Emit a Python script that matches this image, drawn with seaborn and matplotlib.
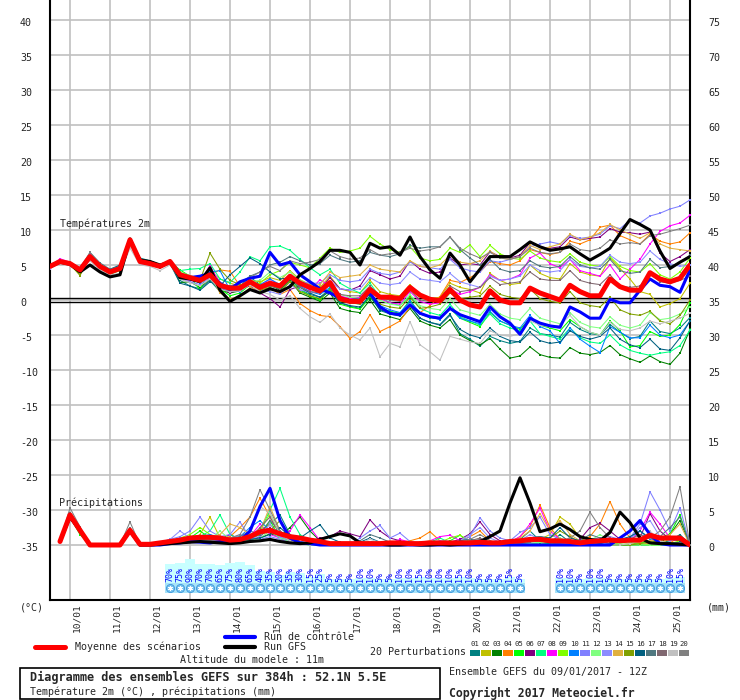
import matplotlib
matplotlib.use("Agg")
import matplotlib.pyplot as plt
import matplotlib.transforms as mtransforms
from matplotlib.lines import Line2D
from matplotlib.patches import Rectangle
import pandas as pd
import seaborn as sns

# time steps (hours after 09/01 12Z), temperature every 6h, precipitation from +6h
hours_t = list(range(0, 385, 6))
hours_p = hours_t[1:]

day_hours = [12, 36, 60, 84, 108, 132, 156, 180, 204, 228, 252, 276, 300, 324, 348, 372]
day_labels = ["10/01", "11/01", "12/01", "13/01", "14/01", "15/01", "16/01", "17/01",
              "18/01", "19/01", "20/01", "21/01", "22/01", "23/01", "24/01", "25/01"]

# ---- temperature 2m (°C) ----
mean_t = [4.8, 5.5, 5.2, 4.3, 6.2, 4.8, 4.0, 4.5, 8.6, 5.5, 5.2, 4.8, 5.5, 3.6, 3.2, 2.8, 3.6, 2.1, 1.7, 1.7, 2.6,
          1.8, 2.4, 2.0, 3.4, 2.4, 1.8, 1.3, 2.5, 0.2, -0.2, -0.2, 1.5, 0.4, 0.4, 0.2, 1.8, 0.7, 0.1, -0.1, 1.5, 0.0,
          -0.7, -1.0, 1.3, 0.0, -0.4, -0.4, 1.7, 1.0, 0.5, 0.0, 2.1, 1.2, 0.6, 0.6, 3.0, 1.9, 1.4, 1.4, 3.9, 3.0, 2.6, 3.1, 5.0]
ctrl_t = [4.8, 5.5, 5.2, 4.4, 6.2, 4.8, 4.1, 4.5, 8.7, 5.5, 5.2, 4.8, 5.5, 3.4, 3.2, 3.4, 3.8, 2.4, 1.5, 2.6, 3.1,
          3.4, 6.8, 5.0, 5.4, 3.6, 2.6, 1.6, 1.0, 0.3, -0.1, 0.0, 1.0, -1.0, -1.9, -2.1, -0.7, -1.9, -2.4, -2.6, -1.2, -2.1,
          -2.6, -3.1, -1.0, -2.4, -3.3, -4.9, -2.6, -3.3, -3.7, -3.9, -1.0, -1.7, -2.6, -2.6, 0.1, -0.4, -0.4, 1.4, 3.0, 2.1, 1.9, 1.1, 4.3]
gfs_t = [4.8, 5.4, 5.1, 4.0, 5.0, 4.0, 3.3, 3.6, 8.6, 5.7, 5.5, 5.0, 5.4, 3.2, 3.0, 2.6, 4.6, 1.4, -0.2, 0.6, 1.5,
         1.0, 1.6, 1.2, 1.9, 3.6, 4.5, 5.5, 7.1, 7.1, 6.8, 5.0, 8.1, 7.4, 7.6, 6.4, 9.0, 6.2, 4.3, 3.1, 6.7, 5.0,
         2.6, 4.4, 6.2, 6.2, 6.2, 7.2, 8.3, 7.6, 7.1, 7.3, 7.6, 6.6, 5.7, 6.5, 7.4, 9.5, 11.5, 10.8, 10.0, 7.0, 4.5, 5.4, 6.2]

t01 = [4.6, 5.6, 5.4, 4.4, 6.5, 5.0, 4.2, 4.9, 8.9, 6.0, 5.6, 5.0, 5.6, 2.8, 2.0, 1.6, 2.8, 1.2, 1.4, 2.0, 3.3,
       2.2, 2.0, 1.6, 3.0, 1.5, 0.8, 0.4, 1.6, -0.4, -0.9, -1.2, 0.6, -1.5, -2.0, -2.3, -0.8, -2.6, -3.2, -3.5, -2.0, -4.8,
       -5.6, -6.6, -5.2, -5.8, -6.2, -5.9, -4.0, -4.8, -5.0, -5.3, -3.2, -4.2, -4.8, -5.0, -3.5, -4.6, -5.5, -5.2, -3.0, -4.5, -4.8, -4.0, -2.5]
t02 = [4.9, 5.4, 5.0, 3.6, 6.0, 4.7, 3.8, 4.3, 8.2, 5.4, 5.0, 4.6, 5.3, 3.8, 3.4, 3.2, 4.2, 3.0, 2.4, 2.0, 2.8,
       2.6, 3.2, 2.8, 4.2, 2.9, 2.2, 1.8, 3.4, 1.6, 1.2, 1.0, 2.8, 1.2, 0.8, 0.6, 2.2, 0.6, 0.2, 0.4, 2.4, 1.8,
       1.5, 1.0, 3.8, 2.8, 2.2, 2.4, 5.0, 3.8, 3.2, 3.0, 5.2, 4.0, 3.6, 3.4, 6.0, 4.5, 3.0, 1.2, 0.8, -1.0, -0.5, 0.2, 2.4]
t03 = [4.7, 5.3, 5.1, 4.6, 6.3, 4.6, 3.9, 4.4, 8.4, 5.3, 5.1, 4.9, 5.4, 2.5, 2.6, 1.8, 3.0, 1.4, 1.0, 1.3, 2.4,
       1.6, 2.2, 1.4, 2.8, 1.0, 0.4, -0.2, 1.0, -1.2, -1.6, -1.8, 0.0, -2.0, -2.4, -2.8, -1.2, -3.0, -3.6, -4.0, -2.8, -5.0,
       -5.8, -6.4, -5.5, -7.0, -8.3, -8.0, -6.7, -7.8, -8.2, -8.3, -6.8, -7.6, -7.8, -7.5, -6.5, -7.8, -8.4, -8.9, -8.0, -8.8, -9.2, -7.6, -4.2]
t04 = [5.0, 5.6, 5.3, 4.4, 6.4, 4.9, 4.1, 4.6, 8.7, 5.6, 5.4, 4.9, 5.6, 3.9, 3.4, 3.0, 3.6, 4.3, 4.1, 2.0, 2.8,
       1.2, 1.8, 0.8, 1.5, -0.5, -1.5, -2.2, -2.4, -3.8, -5.5, -4.5, -2.1, -4.5, -3.8, -3.0, -1.0, -1.8, -0.8, 0.5, 2.8, 2.5,
       3.2, 4.0, 5.5, 5.2, 5.0, 5.6, 7.2, 6.8, 6.5, 6.8, 8.4, 8.0, 8.6, 10.4, 10.7, 9.2, 8.6, 8.0, 9.4, 8.4, 8.0, 8.3, 9.6]
t05 = [4.8, 5.5, 5.4, 4.2, 6.1, 4.6, 3.7, 4.2, 8.8, 5.5, 5.3, 4.7, 5.4, 4.3, 3.4, 1.4, 4.6, 1.6, 0.6, 1.0, 2.2,
       1.8, 2.4, 1.6, 3.2, 1.4, 0.6, 0.0, 1.6, -0.6, -1.0, -1.3, 0.4, -1.2, -1.6, -1.9, 0.0, -2.0, -2.5, -2.7, -1.2, -2.6,
       -3.2, -3.8, -1.8, -3.0, -3.6, -4.2, -2.6, -3.6, -4.0, -4.4, -2.8, -3.8, -4.6, -5.0, -3.0, -4.4, -6.7, -6.5, -4.5, -5.2, -5.0, -3.5, -0.4]
t06 = [4.9, 5.7, 5.2, 4.1, 6.0, 4.8, 4.1, 4.4, 8.3, 5.4, 5.2, 4.8, 5.5, 3.4, 3.0, 2.6, 3.8, 1.8, 1.0, 1.6, 2.0,
       1.0, 0.2, -1.0, 1.5, 2.0, 1.8, 1.5, 3.2, 1.6, 1.4, 2.0, 4.2, 3.6, 3.0, 3.4, 5.6, 4.4, 3.8, 4.0, 6.0, 5.0,
       5.2, 5.0, 6.9, 6.2, 6.0, 6.4, 8.2, 7.6, 7.4, 7.6, 9.0, 8.6, 8.8, 9.0, 10.2, 9.7, 9.6, 9.4, 9.7, 6.7, 5.5, 6.2, 7.2]
t07 = [4.7, 5.4, 5.3, 4.5, 6.3, 4.9, 4.2, 4.6, 8.7, 5.7, 5.4, 5.0, 5.7, 4.2, 4.4, 4.5, 5.2, 3.0, 2.5, 4.0, 6.2,
       5.6, 7.6, 7.7, 7.1, 5.8, 4.6, 3.6, 4.4, 2.4, 1.6, 1.0, 2.4, 0.4, -0.4, -0.8, 0.6, -1.2, -1.8, -2.2, -0.6, -2.4,
       -3.0, -3.6, -2.0, -3.4, -4.0, -4.4, -3.0, -4.8, -5.2, -5.6, -4.0, -5.4, -6.0, -6.2, -5.0, -6.4, -7.2, -7.6, -7.9, -7.6, -7.4, -6.5, -4.3]
t08 = [4.8, 5.9, 5.4, 4.4, 6.6, 5.0, 4.0, 4.7, 8.5, 5.5, 5.1, 4.8, 5.4, 3.0, 2.8, 2.6, 4.9, 2.4, 1.8, 1.5, 2.7,
       2.0, 3.0, 2.0, 3.2, 2.2, 1.4, 2.9, 2.0, 0.6, 0.2, 0.4, 1.8, 0.2, -0.4, -0.6, 1.2, -0.2, -0.6, -0.4, 1.6, 0.8,
       1.2, 1.8, 3.6, 2.8, 3.0, 3.6, 6.0, 6.7, 5.2, 4.6, 5.8, 4.2, 3.8, 3.4, 5.0, 3.0, 4.4, 5.8, 8.0, 9.8, 10.6, 11.0, 12.1]
t09 = [4.8, 5.5, 5.1, 4.3, 6.2, 4.6, 3.9, 4.5, 8.8, 5.5, 5.2, 4.7, 5.5, 3.4, 2.9, 2.6, 3.7, 2.0, 1.5, 1.4, 2.2,
       2.4, 3.6, 4.2, 5.4, 5.0, 4.6, 6.0, 7.4, 6.8, 7.0, 7.4, 9.1, 8.0, 7.2, 6.8, 7.6, 6.0, 5.6, 5.8, 7.4, 6.8,
       7.9, 6.2, 7.8, 6.6, 6.0, 5.8, 7.0, 6.0, 5.6, 5.4, 6.6, 5.4, 5.0, 4.8, 6.2, 4.8, 4.2, 4.0, 5.2, 3.6, 3.0, 4.0, 6.0]
t10 = [4.7, 5.5, 5.2, 4.3, 6.3, 4.8, 4.0, 4.4, 8.6, 5.4, 5.2, 4.8, 5.4, 3.6, 3.2, 2.4, 4.0, 4.2, 1.4, 1.2, 2.4,
       2.2, 3.0, 2.2, 3.4, 2.0, 1.2, 0.8, 1.8, 0.2, -0.3, -0.6, 1.0, -0.8, -1.4, -1.8, -0.2, -1.8, -2.4, -2.8, -1.0, -2.6,
       -3.0, -3.4, -1.6, -3.0, -3.6, -4.0, -2.2, -3.8, -4.4, -6.2, -4.0, -5.6, -6.6, -7.5, -3.8, -4.6, -5.4, -5.4, -3.6, -5.0, -5.4, -5.0, -3.0]
t11 = [4.5, 5.3, 5.2, 4.4, 6.0, 4.7, 4.0, 4.6, 8.2, 5.2, 5.0, 4.6, 5.3, 3.0, 2.6, 2.2, 3.2, 1.6, 1.5, 1.6, 2.4,
       1.6, 2.2, 1.8, 3.2, 2.6, 2.4, 2.4, 3.6, 2.8, 2.6, 2.8, 4.4, 3.8, 3.6, 4.0, 5.4, 4.8, 4.6, 4.4, 5.8, 4.6,
       4.2, 4.0, 5.6, 5.4, 5.8, 6.2, 7.6, 8.0, 8.3, 8.0, 9.2, 8.8, 9.0, 9.4, 10.6, 10.2, 11.4, 11.0, 12.0, 12.4, 13.0, 13.4, 14.3]
t12 = [4.8, 5.5, 5.3, 4.4, 6.3, 4.9, 4.2, 4.7, 8.9, 5.6, 5.3, 4.8, 5.5, 4.0, 3.5, 3.0, 3.6, 2.4, 1.6, 1.8, 2.6,
       2.8, 4.0, 3.2, 4.0, 2.8, 2.0, 1.4, 2.6, 0.8, 0.4, 0.2, 1.8, 0.0, -0.6, -0.8, 0.8, -0.8, -1.2, -1.4, 0.2, -1.4,
       -1.8, -2.2, -0.6, -2.0, -2.6, -2.8, -1.2, -2.6, -3.0, -3.4, -1.8, -3.2, -3.8, -4.0, -2.4, -3.6, -4.0, -3.6, -1.8, -2.8, -2.6, -2.0, -1.0]
t13 = [4.6, 5.4, 5.1, 4.2, 6.1, 4.6, 3.9, 4.4, 8.4, 5.3, 5.1, 4.7, 5.4, 3.3, 2.9, 2.6, 3.3, 1.9, 1.6, 1.8, 2.5,
       1.4, 1.2, 0.8, 2.2, 1.4, 1.2, 1.0, 2.6, 1.6, 1.4, 1.6, 3.2, 2.4, 2.2, 2.4, 4.0, 3.0, 2.8, 2.6, 3.8, 2.6,
       2.2, 1.8, 3.4, 2.8, 3.0, 3.4, 5.0, 4.2, 4.0, 4.2, 5.8, 4.8, 4.6, 4.8, 6.4, 5.4, 5.2, 5.4, 7.0, 5.8, 5.2, 4.8, 5.0]
t14 = [4.9, 5.6, 5.3, 4.4, 6.2, 4.9, 4.2, 4.6, 8.5, 5.6, 5.3, 4.9, 5.6, 3.6, 3.3, 3.0, 3.6, 1.0, 0.2, 0.5, 1.8,
       1.4, 2.0, 1.8, 3.2, 2.4, 2.0, 2.2, 4.0, 3.2, 3.4, 3.6, 5.0, 4.4, 4.2, 4.0, 5.6, 4.8, 4.6, 5.0, 6.4, 5.4,
       5.2, 5.6, 7.0, 6.0, 5.8, 6.2, 7.8, 7.2, 7.6, 8.0, 9.4, 8.6, 9.0, 9.6, 10.8, 10.0, 9.4, 8.8, 9.6, 8.0, 7.4, 7.2, 7.0]
t15 = [4.7, 5.4, 5.2, 3.5, 6.2, 4.8, 3.8, 4.4, 8.7, 5.6, 5.2, 4.7, 5.4, 3.2, 3.0, 2.8, 6.7, 4.4, 2.8, 2.2, 2.4,
       1.4, 1.8, 1.2, 2.6, 1.2, 0.6, 0.2, 1.4, -0.2, -0.4, -0.6, 1.0, -0.6, -1.0, -1.2, 0.4, -1.2, -1.0, -0.6, 1.0, 0.2,
       0.4, 0.6, 2.0, 0.8, 0.4, 0.2, 1.6, 0.2, -0.2, -0.4, 1.2, -0.4, -0.8, -1.0, 0.4, -1.4, -2.0, -2.2, -1.6, -3.0, -3.4, -2.2, 0.0]
t16 = [4.6, 5.3, 5.0, 4.0, 6.1, 4.9, 4.4, 5.0, 8.4, 5.8, 5.4, 4.6, 5.2, 2.4, 2.0, 1.4, 2.6, 2.0, 3.6, 4.8, 6.0,
       5.2, 4.0, 3.0, 3.2, 1.8, 1.0, 0.4, 1.2, -0.4, -0.8, -1.0, 0.6, -1.4, -1.8, -2.2, -0.8, -2.6, -3.2, -3.6, -2.2, -4.2,
       -5.0, -5.4, -4.0, -5.2, -5.8, -6.0, -4.6, -5.8, -6.2, -6.0, -4.4, -5.2, -5.6, -5.2, -4.0, -5.6, -6.4, -6.8, -5.6, -7.0, -7.2, -5.4, -3.0]
t17 = [4.8, 5.5, 5.2, 4.2, 6.8, 5.3, 4.4, 4.8, 8.5, 5.8, 5.6, 5.0, 5.6, 3.6, 3.0, 2.8, 3.8, 2.2, 2.0, 2.4, 3.4,
       4.0, 5.0, 5.4, 6.2, 5.6, 5.0, 5.2, 6.4, 5.8, 5.4, 5.6, 6.8, 6.4, 6.2, 6.6, 7.8, 7.4, 7.6, 7.6, 9.0, 7.2,
       6.0, 5.0, 5.8, 4.4, 4.0, 4.2, 5.6, 4.8, 4.6, 4.8, 6.2, 5.0, 4.6, 4.4, 5.8, 4.2, 3.8, 4.0, 5.8, 4.6, 4.8, 5.4, 6.4]
t18 = [4.9, 5.6, 5.3, 4.3, 6.2, 4.8, 4.0, 4.5, 8.6, 5.5, 5.2, 4.8, 5.5, 3.4, 3.2, 2.6, 3.4, 1.8, 1.4, 1.6, 2.4,
       1.6, 2.0, 1.6, 3.0, 1.8, 1.2, 1.0, 2.2, 0.8, 0.6, 0.6, 2.0, 0.4, 0.0, -0.2, 1.4, 0.0, -0.2, 0.2, 2.0, 1.2,
       1.4, 1.8, 3.2, 2.2, 2.4, 2.6, 4.0, 3.0, 2.8, 2.8, 4.2, 2.8, 2.4, 2.2, 3.6, 2.0, 1.8, 2.0, 3.8, 2.6, 2.4, 2.8, 3.4]
t19 = [4.6, 5.2, 5.0, 4.2, 5.6, 4.3, 3.6, 3.8, 7.4, 5.0, 4.8, 4.2, 5.0, 3.0, 2.5, 2.0, 3.0, 1.5, 1.2, 1.3, 2.2,
       1.2, 0.8, 0.0, 0.6, -1.2, -2.4, -3.2, -2.0, -4.0, -5.0, -5.7, -4.0, -8.1, -6.2, -6.7, -3.1, -6.4, -7.4, -8.6, -5.2, -5.6,
       -6.0, -6.2, -4.4, -5.0, -5.2, -4.8, -3.0, -3.6, -3.8, -3.6, -2.2, -3.8, -4.6, -5.0, -3.2, -4.2, -4.4, -4.0, -3.0, -3.4, -3.0, -2.6, -1.9]
t20 = [5.0, 5.7, 5.4, 4.6, 6.8, 5.0, 4.2, 4.7, 8.6, 5.6, 5.4, 5.0, 5.7, 3.8, 3.2, 2.8, 3.4, 2.0, 1.6, 2.4, 3.2,
       4.0, 4.8, 4.2, 5.6, 5.2, 5.4, 5.8, 7.0, 6.2, 5.8, 6.0, 7.2, 6.4, 6.6, 6.8, 7.4, 7.0, 7.2, 7.6, 9.0, 7.4,
       6.6, 6.0, 6.8, 6.0, 5.8, 6.2, 7.4, 6.8, 6.6, 6.8, 8.0, 7.2, 7.0, 7.4, 8.6, 8.0, 8.2, 8.0, 9.2, 9.4, 9.8, 10.2, 10.7]

# ---- precipitation (mm per 6h), from +6h ----
mean_p = [0.5, 4.3, 2.1, 0, 0, 0, 0, 2.1, 0.1, 0.1, 0.3, 0.5, 0.7, 1.0, 1.1, 1.1,
          1.0, 0.7, 0.8, 1.2, 1.9, 2.1, 1.6, 1.2, 1.0, 0.7, 0.5, 0.2, 0.2, 0.2, 0.2, 0.2,
          0.2, 0.3, 0.3, 0.2, 0.2, 0.3, 0.3, 0.3, 0.3, 0.3, 0.4, 0.3, 0.3, 0.5, 0.6, 0.8,
          0.8, 0.6, 0.6, 0.5, 0.3, 0.5, 0.6, 0.7, 0.6, 0.7, 0.7, 1.4, 1.0, 1.0, 1.0, 0.0]
gfs_p = [0.5, 4.0, 2.0, 0, 0, 0, 0, 2.0, 0, 0, 0.1, 0.2, 0.3, 0.4, 0.5, 0.4,
         0.3, 0.2, 0.3, 0.5, 0.6, 0.8, 0.5, 0.3, 0.2, 0.3, 0.8, 1.2, 1.6, 1.3, 0.3, 0.1,
         0.1, 0, 0, 0.1, 0, 0, 0.1, 0, 0.1, 0.2, 0.5, 1.2, 2.0, 6.0, 9.6, 6.0,
         1.9, 2.3, 3.0, 2.2, 1.2, 0.8, 0.6, 1.8, 4.7, 3.2, 1.0, 0.3, 0.2, 0.2, 0.1, 0]
ctrl_p = [0.5, 4.2, 2.0, 0, 0, 0, 0, 2.0, 0, 0, 0, 0.2, 0.3, 0.5, 0.4, 0.3,
          0.5, 0.3, 0.6, 2.0, 5.5, 8.1, 3.5, 1.0, 0.3, 0.2, 0, 0, 0, 0, 0, 0,
          0, 0, 0, 0, 0, 0, 0, 0, 0, 0, 0, 0, 0, 0, 0, 0,
          0, 0, 0, 0, 0, 0, 0, 0, 1.0, 2.0, 3.5, 1.5, 0.2, 0, 0, 0]

p01 = [0.5, 4.2, 2.0, 0, 0, 0, 0, 2.0, 0, 0, 0.2, 0.4, 0.6, 0.8, 1.0, 0.8,
       0.6, 0.4, 0.8, 1.2, 2.0, 3.0, 4.3, 1.5, 0.5, 0.2, 0, 0, 0, 0, 0.2, 0.5,
       0.2, 0, 0, 0, 0, 0, 0.2, 0, 0, 0, 0, 0, 0, 0, 0.8, 2.0,
       0.6, 0.3, 1.5, 0.4, 0, 0, 0.2, 0.5, 1.0, 0.4, 0, 0.2, 0.3, 0.6, 1.5, 0]
p02 = [0.5, 4.0, 2.2, 0, 0, 0, 0, 2.2, 0, 0, 0.3, 0.6, 0.8, 0.6, 1.5, 4.0,
       1.0, 0.4, 0.6, 0.8, 2.0, 3.0, 1.2, 0.6, 0.4, 0.2, 0, 0, 0, 0, 0, 0,
       0, 0, 0, 0, 0.2, 0, 0, 0, 0, 0, 0.2, 0, 0, 0, 0, 0.4,
       0.8, 1.5, 4.0, 3.0, 1.0, 0.2, 0, 0, 0, 0, 0, 0, 0.3, 0.8, 1.2, 0]
p03 = [0.5, 4.4, 2.0, 0, 0, 0, 0, 2.0, 0, 0, 0.2, 0.3, 0.6, 0.8, 0.6, 0.5,
       0.6, 0.8, 0.5, 0.6, 1.0, 1.6, 1.2, 2.5, 4.0, 2.0, 0.6, 0.2, 0, 0, 0, 0,
       0, 0.2, 0.5, 0, 0, 0, 0, 0, 0, 0, 0, 0, 0, 0, 0, 0,
       0, 0, 0.4, 0.2, 0, 0, 0, 0, 0, 0, 0, 0, 0.2, 1.5, 3.5, 0]
p04 = [0.5, 4.6, 2.1, 0, 0, 0, 0, 2.2, 0, 0, 0.4, 0.6, 0.8, 1.0, 1.2, 0.8,
       1.0, 1.2, 2.5, 4.0, 6.7, 4.0, 1.5, 0.6, 0.3, 0.2, 0, 0, 0, 0, 0, 0.3,
       0.2, 0, 0.4, 0.6, 1.0, 1.9, 0.6, 0.2, 0.5, 1.2, 2.0, 0.6, 0.2, 0.4, 1.2, 2.6,
       5.7, 2.5, 0.8, 0.4, 0.6, 1.2, 3.0, 6.2, 3.0, 1.0, 0.4, 0.2, 0, 0.3, 1.2, 0]
p05 = [0.5, 4.0, 1.5, 0, 0, 0, 0, 2.0, 0, 0, 0.2, 0.4, 0.6, 1.0, 2.0, 1.0,
       0.6, 0.4, 0.5, 0.8, 1.5, 3.5, 1.0, 0.4, 0.2, 0, 0, 0, 0, 0, 0, 0,
       0, 0, 0, 0, 0, 0, 0.2, 0.6, 1.4, 0.4, 0, 0, 0, 0, 0, 0.2,
       0.3, 0.2, 0, 0, 0, 0, 0, 0, 0, 0.2, 0.3, 0.5, 1.0, 1.6, 4.3, 0]
p06 = [0.5, 4.2, 2.2, 0, 0, 0, 0, 2.0, 0, 0, 0.2, 0.4, 0.6, 0.5, 0.8, 1.0,
       0.8, 1.5, 0.8, 0.6, 1.2, 2.5, 0.8, 0.4, 0.2, 0.5, 1.0, 1.2, 2.0, 1.6, 1.2, 3.6,
       2.0, 1.0, 0.6, 0.3, 0.2, 0.2, 0.4, 0.4, 0.8, 1.6, 3.3, 1.5, 0.6, 0.3, 0.4, 0.6,
       0.8, 0.4, 0.6, 0.4, 0.8, 2.5, 3.1, 2.0, 0.8, 0.4, 1.0, 4.5, 2.0, 0.8, 0.6, 0]
p07 = [0.5, 3.8, 2.0, 0, 0, 0, 0, 2.0, 0, 0, 0.3, 0.5, 0.8, 1.0, 1.2, 2.0,
       4.3, 1.5, 0.8, 1.0, 2.0, 5.0, 8.1, 4.0, 1.5, 0.5, 0.2, 0, 0, 0, 0, 0,
       0, 0, 0, 0, 0.2, 0.4, 1.0, 0.3, 0, 0, 0, 0, 0, 0, 0.5, 0.2,
       0, 0, 0, 0, 0, 0, 0, 0, 0, 0, 0, 0, 0, 0, 0.3, 0]
p08 = [0.5, 4.3, 2.0, 0, 0, 0, 0, 2.4, 0, 0, 0.2, 0.4, 0.5, 0.6, 0.8, 0.6,
       0.6, 0.8, 1.0, 1.2, 3.0, 1.5, 1.0, 2.0, 4.3, 2.5, 0.6, 0.2, 0, 0, 0, 0,
       0, 0.2, 0.8, 0.4, 0.2, 0.6, 1.2, 1.4, 0.6, 0.3, 0.4, 0.2, 0.2, 0.4, 1.2, 3.0,
       5.3, 2.0, 0.8, 0.4, 0.2, 0.4, 0.8, 1.0, 0.4, 0.6, 2.0, 4.7, 3.0, 1.0, 0.8, 0]
p09 = [0.5, 4.0, 1.8, 0, 0, 0, 0, 2.0, 0, 0, 0.3, 0.6, 1.0, 1.5, 2.5, 1.5,
       0.8, 0.6, 0.8, 1.0, 2.0, 4.5, 1.5, 0.6, 0.3, 0.2, 0, 0, 0, 0, 0, 0,
       0, 0, 0.2, 0, 0, 0, 0.4, 1.0, 1.4, 0.5, 0.2, 0, 0, 0, 0, 0,
       0, 0, 0.2, 0, 0, 0, 0, 0, 0.3, 0.5, 0.2, 0, 0, 0.2, 0.6, 0]
p10 = [0.5, 4.5, 2.0, 0, 0, 0, 0, 2.1, 0, 0, 0.2, 0.5, 0.8, 1.0, 1.2, 1.5,
       1.0, 0.8, 1.2, 2.5, 3.5, 2.0, 1.0, 0.5, 0.3, 0, 0, 0, 0, 0, 0, 0,
       0, 0, 0, 0, 0, 0, 0, 0, 0, 0, 0, 0, 0.2, 0.4, 0.2, 0,
       0, 0, 0.2, 0, 0, 0, 0, 0.2, 0.5, 1.0, 2.0, 0.8, 0.3, 0, 0, 0]
p11 = [0.5, 3.6, 2.4, 0, 0, 0, 0, 2.2, 0, 0, 0.4, 0.8, 1.2, 2.0, 4.0, 2.0,
       1.2, 1.5, 3.3, 1.0, 0.8, 1.2, 0.8, 0.5, 0.4, 0.2, 0, 0, 0, 0, 1.0, 2.0,
       2.8, 1.0, 1.7, 0.5, 0.3, 0.4, 0.6, 0.5, 0.4, 1.2, 3.9, 2.0, 1.0, 0.6, 1.8, 2.5,
       4.0, 1.5, 0.8, 0.6, 0.4, 0.8, 1.0, 1.2, 0.8, 1.0, 3.0, 7.6, 5.0, 2.0, 5.3, 0]
p12 = [0.5, 4.1, 2.0, 0, 0, 0, 0, 2.0, 0, 0, 0.2, 0.4, 0.6, 1.0, 0.8, 0.8,
       2.0, 0.8, 0.6, 0.6, 1.0, 2.0, 1.0, 0.5, 0.2, 0, 0, 0, 0, 0, 0, 0,
       0, 0, 0, 0, 0, 0, 0, 0, 0, 0, 0, 0, 0, 0, 0, 0.2,
       0.4, 0.6, 1.0, 0.4, 0.2, 0.6, 1.5, 0.6, 0.2, 0, 0, 0, 0, 0.2, 0.4, 0]
p13 = [0.5, 3.9, 2.0, 0, 0, 0, 0, 2.1, 0, 0, 0.3, 0.8, 2.0, 1.0, 0.6, 0.5,
       0.6, 0.8, 1.5, 1.0, 1.2, 3.0, 1.2, 0.6, 0.3, 0.2, 0, 0, 0, 0, 0.2, 0.4,
       0.3, 0.2, 0, 0, 0, 0.2, 0.2, 0.3, 0.6, 1.5, 2.5, 1.0, 0.4, 0.2, 0.6, 1.5,
       0.8, 0.4, 0.3, 0.2, 0.2, 0.4, 0.6, 0.8, 0.6, 0.8, 2.5, 3.5, 1.2, 0.6, 1.0, 0]
p14 = [0.5, 4.2, 2.3, 0, 0, 0, 0, 2.1, 0, 0, 0.3, 0.5, 0.6, 0.8, 0.8, 1.0,
       1.5, 3.0, 2.5, 1.5, 2.0, 5.5, 2.0, 0.8, 0.3, 0.2, 0, 0, 0, 0, 0, 0,
       0, 0, 0, 0.2, 0.4, 0.6, 0.2, 0, 0, 0, 0.2, 0.4, 0.2, 0.4, 1.0, 2.0,
       4.5, 2.0, 3.5, 1.5, 0.6, 0.4, 0.6, 0.8, 0.4, 0.2, 0.4, 0.6, 0.8, 1.5, 3.0, 0]
p15 = [0.5, 4.4, 2.1, 0, 0, 0, 0, 2.0, 0, 0, 0.2, 0.4, 0.6, 0.8, 1.2, 0.8,
       0.6, 0.5, 0.8, 1.0, 1.5, 2.0, 3.5, 1.0, 0.4, 0.2, 0, 0, 0, 0, 0, 0,
       0, 0, 0, 0, 0, 0, 0, 0.2, 0.4, 0.2, 0, 0, 0, 0, 0.2, 0.6,
       0.8, 1.0, 2.0, 1.2, 0.4, 0.2, 0, 0, 0, 0, 0.2, 0.4, 0.6, 1.0, 0.6, 0]
p16 = [0.5, 4.0, 2.0, 0, 0, 0, 0, 2.0, 0, 0, 0.2, 0.4, 0.5, 0.6, 0.8, 0.6,
       0.5, 0.8, 0.6, 0.8, 1.0, 1.5, 2.5, 1.2, 1.0, 2.0, 2.9, 1.0, 0.4, 0, 0.4, 1.0,
       0.4, 0.2, 0, 0, 0, 0.2, 0.4, 0.2, 0.6, 0.8, 0.6, 0.4, 0.2, 0.4, 0.6, 1.0,
       1.2, 1.0, 2.5, 1.0, 0.6, 0.4, 0.2, 0.6, 0.8, 1.2, 2.0, 1.0, 0.4, 0.2, 0.4, 0]
p17 = [0.5, 4.6, 2.2, 0, 0, 0, 0, 2.5, 0, 0, 0.2, 0.5, 0.8, 1.0, 1.0, 0.8,
       1.0, 1.0, 1.2, 2.0, 1.5, 3.5, 2.0, 0.8, 0.4, 0.2, 0, 0, 0, 0, 0.6, 1.5,
       1.0, 0.4, 0.2, 0, 0, 0.2, 0.3, 0.2, 0.3, 0.5, 0.8, 0.4, 0.2, 0.3, 0.6, 1.0,
       1.2, 0.8, 0.6, 0.4, 0.6, 1.5, 1.0, 0.6, 0.4, 0.6, 0.8, 1.0, 1.2, 2.5, 4.0, 0]
p18 = [0.5, 4.4, 2.0, 0, 0, 0, 0, 2.4, 0, 0, 0.2, 0.4, 0.6, 0.8, 0.8, 0.6,
       0.8, 0.6, 0.8, 1.0, 2.5, 4.0, 1.5, 0.6, 0.3, 0.2, 0, 0, 0, 0, 0, 0,
       0, 0, 0, 0, 0, 0, 0, 0.2, 0.3, 0.6, 1.0, 0.4, 0.2, 0, 0.2, 0.4,
       0.6, 0.3, 0.2, 0, 0, 0.2, 0.4, 0.2, 0.4, 0.8, 1.5, 1.0, 0.4, 0.2, 0.3, 0]
p19 = [0.5, 4.0, 1.8, 0, 0, 0, 0, 2.2, 0, 0, 0.2, 0.4, 0.6, 1.0, 0.6, 0.5,
       0.6, 0.8, 1.0, 1.5, 5.5, 4.5, 1.5, 0.6, 0.2, 0, 0, 0, 0, 0, 0.3, 0.8,
       0.4, 0, 0, 0, 0, 0, 0, 0, 0, 0, 0, 0, 0, 0, 0, 0,
       0, 0, 0, 0, 0, 0, 0, 0, 0, 0.2, 0.6, 2.0, 0.6, 0.2, 0.2, 0]
p20 = [0.5, 5.3, 2.6, 0, 0, 0, 0, 3.3, 0, 0, 0.3, 0.5, 0.8, 1.0, 1.0, 0.8,
       1.0, 1.0, 1.5, 4.0, 7.9, 5.0, 2.0, 0.8, 0.4, 0.2, 0, 0, 0, 0, 0, 0.2,
       0.2, 0, 0, 0, 0, 0, 0.2, 0.3, 0.5, 0.8, 1.5, 0.6, 0.2, 0.2, 0.4, 0.8,
       1.0, 0.8, 0.6, 1.0, 2.0, 4.7, 2.5, 1.0, 0.4, 0.6, 0.8, 1.0, 2.0, 4.0, 8.3, 0]

# snow probability (%) per precipitation step, 0 = not shown
snow_pct = [0, 0, 0, 0, 0, 0, 0, 0, 0, 0, 0, 70, 75, 90, 70, 70,
            65, 75, 80, 65, 40, 35, 20, 35, 30, 15, 25, 5, 5, 5, 10, 10,
            5, 5, 10, 10, 15, 10, 10, 10, 15, 10, 5, 5, 5, 15, 5, 0,
            0, 0, 10, 10, 5, 10, 10, 5, 5, 5, 5, 5, 5, 10, 15, 0]

member_names = ["01", "02", "03", "04", "05", "06", "07", "08", "09", "10",
                "11", "12", "13", "14", "15", "16", "17", "18", "19", "20"]
member_colors = ["#008080", "#c0c000", "#008000", "#ff8000", "#00ff00", "#800080", "#00ff80",
                 "#ff00ff", "#80ff00", "#0080ff", "#8080ff", "#80ff80", "#8c8cff", "#e0b040",
                 "#80a000", "#006080", "#507880", "#806870", "#c0c0c0", "#808080"]
member_temps = [t01, t02, t03, t04, t05, t06, t07, t08, t09, t10,
                t11, t12, t13, t14, t15, t16, t17, t18, t19, t20]
member_precs = [p01, p02, p03, p04, p05, p06, p07, p08, p09, p10,
                p11, p12, p13, p14, p15, p16, p17, p18, p19, p20]

PRECIP_ZERO = -35  # precipitation 0 mm sits on the -35 °C line (right axis = left + 35)

rows_t, rows_p = [], []
for name, tv, pv in zip(member_names, member_temps, member_precs):
    for h, v in zip(hours_t, tv):
        rows_t.append((name, h, v))
    for h, v in zip(hours_p, pv):
        rows_p.append((name, h, v + PRECIP_ZERO))
df_t = pd.DataFrame(rows_t, columns=["member", "h", "val"])
df_p = pd.DataFrame(rows_p, columns=["member", "h", "val"])
pal = dict(zip(member_names, member_colors))

sns.set_style("white")
plt.rcParams["font.family"] = ["DejaVu Sans Mono"]

W, H = 740, 700
fig = plt.figure(figsize=(W / 100, H / 100), dpi=100)
ax = fig.add_axes([50 / W, 100 / H, 640 / W, 600 / H])

ax.set_xlim(0, 384)
ax.set_ylim(-300 / 7, 300 / 7)
ax.set_yticks(range(-35, 41, 5))
ax.set_xticks(day_hours)
ax.set_axisbelow(True)
ax.grid(True, color="#c0c0c0", lw=1.2)
ax.tick_params(axis="y", length=0, labelleft=False)
ax.tick_params(axis="x", length=5, width=1.2, color="#c0c0c0", labelbottom=False)
for side in ["left", "right", "bottom"]:
    ax.spines[side].set_color("black")
    ax.spines[side].set_linewidth(1.5)
ax.spines["top"].set_visible(False)

# double zero line
ax.axhline(0.22, color="black", lw=1.0, zorder=2)
ax.axhline(-0.22, color="black", lw=1.0, zorder=2)

# ensemble members
line_kw = dict(estimator=None, lw=0.75, marker="s", markersize=2, markeredgewidth=0,
               legend=False, sort=False, ax=ax, zorder=3)
sns.lineplot(data=df_t, x="h", y="val", hue="member", palette=pal, **line_kw)
sns.lineplot(data=df_p, x="h", y="val", hue="member", palette=pal, **line_kw)

# control run, GFS, ensemble mean
ctrl_p_plot = [v + PRECIP_ZERO for v in ctrl_p]
gfs_p_plot = [v + PRECIP_ZERO for v in gfs_p]
mean_p_plot = [v + PRECIP_ZERO for v in mean_p]
sns.lineplot(x=hours_t, y=ctrl_t, color="#0000ff", lw=2.2, ax=ax, zorder=4)
sns.lineplot(x=hours_p, y=ctrl_p_plot, color="#0000ff", lw=2.2, ax=ax, zorder=4)
sns.lineplot(x=hours_t, y=gfs_t, color="black", lw=2.2, ax=ax, zorder=5)
sns.lineplot(x=hours_p, y=gfs_p_plot, color="black", lw=2.2, ax=ax, zorder=5)
sns.lineplot(x=hours_t, y=mean_t, color="#ff0000", lw=3.6, ax=ax, zorder=6)
sns.lineplot(x=hours_p, y=mean_p_plot, color="#ff0000", lw=3.6, ax=ax, zorder=6)

# snow probability strip
px = 1 / 7  # one pixel in data units
bar_base = -283 / 7
flake_y = -288 / 7
snow_h = [h for h, s in zip(hours_p, snow_pct) if s > 0]
snow_v = [s for s in snow_pct if s > 0]
ax.bar(snow_h, [(3 + s * 0.23) * px for s in snow_v], bottom=bar_base, width=6,
       color="#c8ffff", lw=0, zorder=1)
ax.bar(snow_h, [10 * px] * len(snow_h), bottom=bar_base - 10 * px, width=6,
       color="#a6e2f8", lw=0, zorder=1)
ax.scatter(snow_h, [flake_y] * len(snow_h), s=34, marker="o", facecolor="#78c4f0",
           edgecolor="#3c96dc", lw=0.6, zorder=2)
ax.scatter(snow_h, [flake_y] * len(snow_h), s=10, marker=(6, 2, 0), color="white",
           lw=0.6, zorder=2)
for h, s in zip(snow_h, snow_v):
    ax.text(h, bar_base + 1.5 * px, f"{s}%", rotation=90, ha="center", va="bottom",
            color="#0000ff", fontsize=6.0, zorder=3)

ax.text(6, 10.9, "Températures 2m", fontsize=7.2, va="center", ha="left")
ax.text(5.4, -28.9, "Précipitations", fontsize=7.2, va="center", ha="left")

# axis labels drawn as text
tr_left = mtransforms.offset_copy(
    mtransforms.blended_transform_factory(fig.transFigure, ax.transData), fig=fig, x=0, y=-3, units="dots")
for v in range(-35, 41, 5):
    ax.text(20 / W, v, str(v), transform=tr_left, ha="left", va="center", fontsize=7.2)
    ax.text(708 / W, v, str(v + 35), transform=tr_left, ha="left", va="center", fontsize=7.2)

tr_date = mtransforms.offset_copy(ax.get_xaxis_transform(), fig=fig, x=7, y=-3, units="dots")
for h, lab in zip(day_hours, day_labels):
    ax.text(h, 0, lab, transform=tr_date, rotation=90, ha="center", va="top", fontsize=6.8)


def fx(p):
    return p / W


def fy(p):
    return 1 - p / H


fig.text(fx(20), fy(607), "(°C)", fontsize=7.2, va="center")
fig.text(fx(707), fy(607), "(mm)", fontsize=7.2, va="center")

# legend
fig.add_artist(Line2D([fx(35), fx(65)], [fy(647), fy(647)], color="#ff0000", lw=3.6))
fig.text(fx(75), fy(647), "Moyenne des scénarios", fontsize=7.2, va="center")
fig.add_artist(Line2D([fx(225), fx(255)], [fy(637), fy(637)], color="#0000ff", lw=3.0))
fig.text(fx(264), fy(637), "Run de contrôle", fontsize=7.2, va="center")
fig.add_artist(Line2D([fx(225), fx(255)], [fy(647), fy(647)], color="black", lw=3.0))
fig.text(fx(264), fy(647), "Run GFS", fontsize=7.2, va="center")
fig.text(fx(180), fy(660), "Altitude du modele : 11m", fontsize=7.2, va="center")

fig.text(fx(370), fy(652), "20 Perturbations", fontsize=7.2, va="center")
for i, (name, col) in enumerate(zip(member_names, member_colors)):
    x0 = 470 + i * 11
    fig.add_artist(Rectangle((fx(x0), fy(656)), 10 / W, 6 / H, transform=fig.transFigure,
                             facecolor=col, edgecolor="none"))
    fig.text(fx(x0 + 5), fy(644), name, fontsize=5.2, ha="center", va="center")

# title box
fig.add_artist(Rectangle((fx(20), fy(699)), 420 / W, 31 / H, transform=fig.transFigure,
                         facecolor="white", edgecolor="black", lw=1.2))
fig.text(fx(30), fy(677), "Diagramme des ensembles GEFS sur 384h : 52.1N 5.5E",
         fontsize=8.6, fontweight="bold", va="center")
fig.text(fx(30), fy(692), "Température 2m (°C) , précipitations (mm)", fontsize=7.2, va="center")

fig.text(fx(449), fy(672), "Ensemble GEFS du 09/01/2017 - 12Z", fontsize=7.2, va="center")
fig.text(fx(449), fy(693), "Copyright 2017 Meteociel.fr", fontsize=8.3, fontweight="bold", va="center")

fig.savefig("out.png", dpi=100)
